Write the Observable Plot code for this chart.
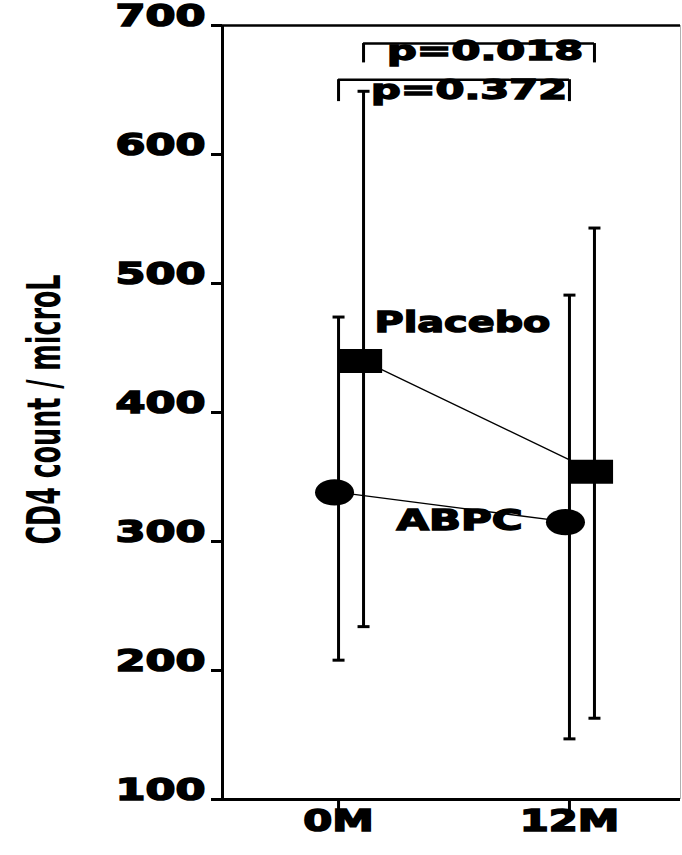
<!DOCTYPE html>
<html><head><meta charset="utf-8">
<script src="https://cdn.jsdelivr.net/npm/d3@7"></script>
<script src="https://cdn.jsdelivr.net/npm/@observablehq/plot@0.6"></script>
<style>body{margin:0;background:#fff;color:#000}</style>
</head><body><div id="chart"></div>
<script>
// ---- data ----
const months = [0, 12];
const monthLabels = ["0M", "12M"];
const abpcMean = [338, 315];
const abpcLow = [208, 147];
const abpcHigh = [474, 491];
const placeboMean = [440, 354];
const placeboLow = [234, 163];
const placeboHigh = [649, 543];
const yTicks = [100, 200, 300, 400, 500, 600, 700];
const seriesNames = ["Placebo", "ABPC"];
const pLabels = ["p=0.018", "p=0.372"];   // Placebo 0M vs 12M, ABPC 0M vs 12M
const bracketTop = [686, 658];
const bracketEnd = [671, 641];
const yTitle = "CD4 count / microL";

// ---- tables built from the arrays ----
const abpc = months.map((m, i) => ({month: m, mean: abpcMean[i], low: abpcLow[i], high: abpcHigh[i]}));
const placebo = months.map((m, i) => ({month: m, mean: placeboMean[i], low: placeboLow[i], high: placeboHigh[i]}));
const brackets = seriesNames.map((s, i) => ({series: s, label: pLabels[i], top: bracketTop[i], end: bracketEnd[i], x1: months[0], x2: months[1], mid: (months[0] + months[1]) / 2}));

const OFF = 25; // placebo drawn to the right of ABPC
const FONT = "DejaVu Sans, Liberation Sans, Arial, sans-serif";
const xDomain = [-6.03, 17.77];

const ellipseSym = {draw(ctx, size) {
  const r = Math.sqrt(size / Math.PI), rx = r * 1.22, ry = r * 0.82, k = 0.5523;
  ctx.moveTo(rx, 0);
  ctx.bezierCurveTo(rx, ry * k, rx * k, ry, 0, ry);
  ctx.bezierCurveTo(-rx * k, ry, -rx, ry * k, -rx, 0);
  ctx.bezierCurveTo(-rx, -ry * k, -rx * k, -ry, 0, -ry);
  ctx.bezierCurveTo(rx * k, -ry, rx, -ry * k, rx, 0);
  ctx.closePath();
}};
const rectSym = {draw(ctx, size) {
  const r = Math.sqrt(size / Math.PI), hx = r * 1.35, hy = r * 0.75;
  ctx.moveTo(-hx, -hy); ctx.lineTo(hx, -hy); ctx.lineTo(hx, hy); ctx.lineTo(-hx, hy); ctx.closePath();
}};
const capSym = {draw(ctx) { ctx.moveTo(-6, 0); ctx.lineTo(6, 0); }};

const errMarks = (data, dx) => [
  Plot.ruleX(data, {x: "month", y1: "low", y2: "high", dx, stroke: "black", strokeWidth: 3}),
  Plot.dot(data, {x: "month", y: "high", dx, symbol: capSym, r: 5, stroke: "black", fill: "none", strokeWidth: 3}),
  Plot.dot(data, {x: "month", y: "low", dx, symbol: capSym, r: 5, stroke: "black", fill: "none", strokeWidth: 3})
];

const plot = Plot.plot({
  width: 682,
  height: 855,
  marginLeft: 222,
  marginRight: 2,
  marginTop: 25,
  marginBottom: 56,
  style: {background: "#fff", color: "#000", fontFamily: FONT, overflow: "visible"},
  x: {domain: xDomain},
  y: {domain: [100, 700]},
  marks: [
    Plot.ruleX([xDomain[1]], {stroke: "#b0b0b0", strokeWidth: 1}),
    Plot.ruleY([700], {stroke: "black", strokeWidth: 2.5}),
    Plot.ruleY([100], {stroke: "black", strokeWidth: 3}),
    Plot.ruleX([xDomain[0]], {stroke: "black", strokeWidth: 3}),
    Plot.axisY(yTicks, {tickSize: 11, tickPadding: 6, strokeWidth: 3, fontSize: 31, fontWeight: "bold", fontFamily: FONT, fill: "black", stroke: "black"}),
    Plot.axisX(months, {tickSize: 13, tickPadding: 18, strokeWidth: 3, fontSize: 30, fontWeight: "bold", fontFamily: FONT, fill: "black", stroke: "black",
      tickFormat: (d) => monthLabels[months.indexOf(d)]}),
    // y-axis title
    Plot.text([yTitle], {text: (d) => d, frameAnchor: "left", textAnchor: "middle", lineAnchor: "middle", rotate: -90, dx: -163, dy: -3,
      fontSize: 47, fontWeight: "bold", fontFamily: FONT, fill: "black"}),
    // error bars
    ...errMarks(abpc, 0),
    ...errMarks(placebo, OFF),
    // connecting lines
    Plot.line(abpc, {x: "month", y: "mean", stroke: "black", strokeWidth: 1.3}),
    Plot.line(placebo, {x: "month", y: "mean", dx: OFF, stroke: "black", strokeWidth: 1.3}),
    // markers
    Plot.dot(abpc, {x: "month", y: "mean", dx: -4, symbol: ellipseSym, r: 16, fill: "black", stroke: "none"}),
    Plot.dot(placebo, {x: "month", y: "mean", dx: OFF - 3, symbol: rectSym, r: 16, fill: "black", stroke: "none"}),
    // series labels
    Plot.text([placebo[0]], {x: "month", y: "mean", text: () => seriesNames[0], dx: 36, dy: -29, textAnchor: "start", lineAnchor: "middle",
      fontSize: 28, fontWeight: "bold", fontFamily: FONT, fill: "black"}),
    Plot.text([abpc[0]], {x: "month", y: "mean", text: () => seriesNames[1], dx: 58, dy: 38, textAnchor: "start", lineAnchor: "middle",
      fontSize: 28, fontWeight: "bold", fontFamily: FONT, fill: "black"}),
    // significance brackets
    Plot.ruleY([brackets[0]], {y: "top", x1: "x1", x2: "x2", dx: OFF, stroke: "black", strokeWidth: 2.5}),
    Plot.ruleX(months, {x: (d) => d, y1: () => brackets[0].top, y2: () => brackets[0].end, dx: OFF, stroke: "black", strokeWidth: 3}),
    Plot.ruleY([brackets[1]], {y: "top", x1: "x1", x2: "x2", stroke: "black", strokeWidth: 2.5}),
    Plot.ruleX(months, {x: (d) => d, y1: () => brackets[1].top, y2: () => brackets[1].end, stroke: "black", strokeWidth: 3}),
    Plot.text([brackets[0]], {x: "mid", y: "top", text: "label", dx: OFF + 6, dy: 16, textAnchor: "middle", lineAnchor: "middle",
      fontSize: 26, fontWeight: "bold", fontFamily: FONT, fill: "black"}),
    Plot.text([brackets[1]], {x: "mid", y: "top", text: "label", dx: 15, dy: 19, textAnchor: "middle", lineAnchor: "middle",
      fontSize: 26, fontWeight: "bold", fontFamily: FONT, fill: "black"})
  ]
});

// stretch and thicken the heavy, wide lettering of the original
plot.querySelectorAll("text").forEach((t) => {
  const s = t.textContent.trim();
  let k = null, sw = 0;
  if (/^\d+$/.test(s) || /^\d+M$/.test(s)) { k = 1.39; sw = 1.6; }
  else if (s.startsWith("p=")) { k = 1.6; sw = 1.4; }
  else if (s === "Placebo") { k = 1.42; sw = 1.4; }
  else if (s === "ABPC") { k = 1.5; sw = 1.4; }
  else if (s.startsWith("CD4")) { k = 0.54; sw = 0; }
  if (k == null) return;
  let tr = t.getAttribute("transform") || "";
  if (t.hasAttribute("x") || t.hasAttribute("y")) {
    const x = +t.getAttribute("x") || 0, y = +t.getAttribute("y") || 0;
    t.removeAttribute("x"); t.removeAttribute("y");
    tr = `translate(${x},${y}) ` + tr;
  }
  t.setAttribute("transform", tr + ` scale(${k},1)`);
  if (sw) {
    t.setAttribute("stroke", "black");
    t.setAttribute("stroke-width", sw);
    t.setAttribute("stroke-linejoin", "miter");
    t.setAttribute("paint-order", "stroke");
  } else {
    t.setAttribute("stroke", "none");
  }
});

document.getElementById("chart").appendChild(plot);
</script>
</body></html>
